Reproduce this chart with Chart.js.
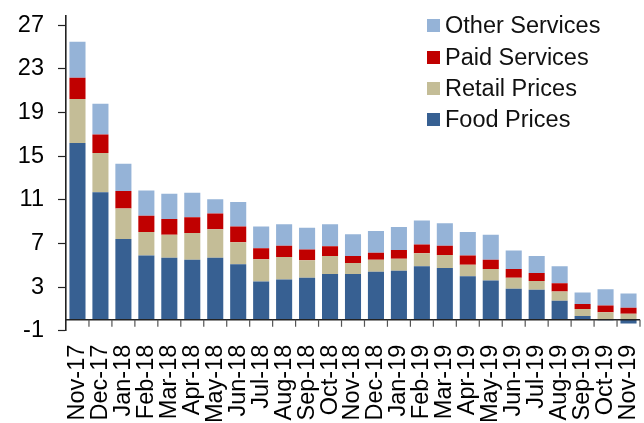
<!DOCTYPE html>
<html>
<head>
<meta charset="utf-8">
<script src="https://cdn.jsdelivr.net/npm/chart.js@4.4.1/dist/chart.umd.min.js"></script>
<style>
  html, body { margin: 0; padding: 0; background: #fff; overflow: hidden; }
  #wrap { position: relative; width: 644px; height: 423px; }
  #legend { position: absolute; left: 427px; top: 10px; font-family: "Liberation Sans", Arial, sans-serif; font-size: 23.5px; color: #111; }
  .row { display: flex; align-items: center; height: 31.4px; white-space: nowrap; }
  .sw { width: 13px; height: 13px; margin-right: 5px; flex: none; }
</style>
</head>
<body>
<div id="wrap">
  <canvas id="c" width="644" height="423"></canvas>
  <div id="legend"></div>
</div>
<script>
const categories = ["Nov-17","Dec-17","Jan-18","Feb-18","Mar-18","Apr-18","May-18","Jun-18","Jul-18","Aug-18","Sep-18","Oct-18","Nov-18","Dec-18","Jan-19","Feb-19","Mar-19","Apr-19","May-19","Jun-19","Jul-19","Aug-19","Sep-19","Oct-19","Nov-19"];
const foodPrices    = [16.2, 11.7, 7.4, 5.9, 5.7, 5.5, 5.7, 5.1, 3.5, 3.7, 3.85, 4.2, 4.2, 4.4, 4.5, 4.9, 4.75, 4.0, 3.6, 2.85, 2.75, 1.75, 0.35, -0.05, -0.35];
const retailPrices  = [4.05, 3.6, 2.8, 2.15, 2.1, 2.45, 2.6, 2.0, 2.05, 2.05, 1.6, 1.65, 1.0, 1.1, 1.1, 1.2, 1.2, 1.05, 1.05, 1.0, 0.8, 0.85, 0.65, 0.7, 0.55];
const paidServices  = [1.95, 1.7, 1.6, 1.5, 1.45, 1.45, 1.45, 1.45, 1.0, 1.05, 1.0, 0.9, 0.65, 0.65, 0.8, 0.8, 0.85, 0.85, 0.85, 0.8, 0.75, 0.75, 0.45, 0.6, 0.55];
const otherServices = [3.3, 2.8, 2.5, 2.3, 2.3, 2.25, 1.3, 2.25, 2.0, 1.95, 2.0, 2.0, 2.0, 2.0, 2.1, 2.2, 2.05, 2.15, 2.3, 1.7, 1.55, 1.55, 1.05, 1.5, 1.3];
const yTickValues = [-1, 3, 7, 11, 15, 19, 23, 27];
const seriesNames = ["Food Prices", "Retail Prices", "Paid Services", "Other Services"];
const seriesColors = ["#376092", "#C4BD97", "#C00000", "#95B3D7"];

const FONT = "'Liberation Sans', Arial, sans-serif";
const seriesData = [foodPrices, retailPrices, paidServices, otherServices];

const zeroAxis = {
  id: 'zeroAxis',
  afterDatasetsDraw(chart) {
    const ctx = chart.ctx, xs = chart.scales.x, ys = chart.scales.y, a = chart.chartArea;
    const y0 = ys.getPixelForValue(0);
    ctx.save();
    ctx.strokeStyle = '#222';
    ctx.lineWidth = 1.6;
    ctx.beginPath();
    ctx.moveTo(a.left, y0); ctx.lineTo(a.right, y0);
    ctx.stroke();
    ctx.lineWidth = 1.2;
    ctx.strokeStyle = '#555';
    const n = categories.length;
    for (let i = 1; i <= n; i++) {
      const x = i < n ? (xs.getPixelForValue(i - 1) + xs.getPixelForValue(i)) / 2 : a.right;
      ctx.beginPath(); ctx.moveTo(x, y0); ctx.lineTo(x, y0 + 7); ctx.stroke();
    }
    ctx.restore();
  }
};

const chart = new Chart(document.getElementById('c'), {
  type: 'bar',
  data: {
    labels: categories,
    datasets: seriesData.map((d, i) => ({
      label: seriesNames[i],
      data: d,
      backgroundColor: seriesColors[i],
      borderWidth: 0,
      barPercentage: 0.7,
      categoryPercentage: 1.0
    }))
  },
  options: {
    responsive: false,
    animation: false,
    devicePixelRatio: 1,
    layout: { padding: { left: 0, right: 4, top: 15.5, bottom: 0 } },
    plugins: { legend: { display: false }, tooltip: { enabled: false } },
    scales: {
      x: {
        stacked: true,
        grid: { display: false, drawTicks: false },
        border: { display: false },
        ticks: { autoSkip: false, minRotation: 90, maxRotation: 90, padding: 14, color: '#000', font: { family: FONT, size: 23.5 } },
        afterFit(s) { s.height = 92.3; s.paddingLeft = 0; s.paddingRight = 0; }
      },
      y: {
        stacked: true,
        min: -1, max: 27.9,
        afterBuildTicks(s) { s.ticks = yTickValues.map(v => ({ value: v })); },
        grid: { drawOnChartArea: false, drawTicks: true, tickLength: 8, tickColor: '#222', tickWidth: 1.2 },
        border: { display: true, color: '#222', width: 1.6 },
        ticks: { padding: 14, color: '#000', font: { family: FONT, size: 23.5 } },
        afterFit(s) { s.width = 66; s.paddingTop = 0; s.paddingBottom = 0; }
      }
    }
  },
  plugins: [zeroAxis]
});

const legend = document.getElementById('legend');
for (let i = seriesNames.length - 1; i >= 0; i--) {
  const row = document.createElement('div');
  row.className = 'row';
  const sw = document.createElement('span');
  sw.className = 'sw';
  sw.style.background = seriesColors[i];
  const t = document.createElement('span');
  t.textContent = seriesNames[i];
  row.appendChild(sw); row.appendChild(t);
  legend.appendChild(row);
}
</script>
</body>
</html>
